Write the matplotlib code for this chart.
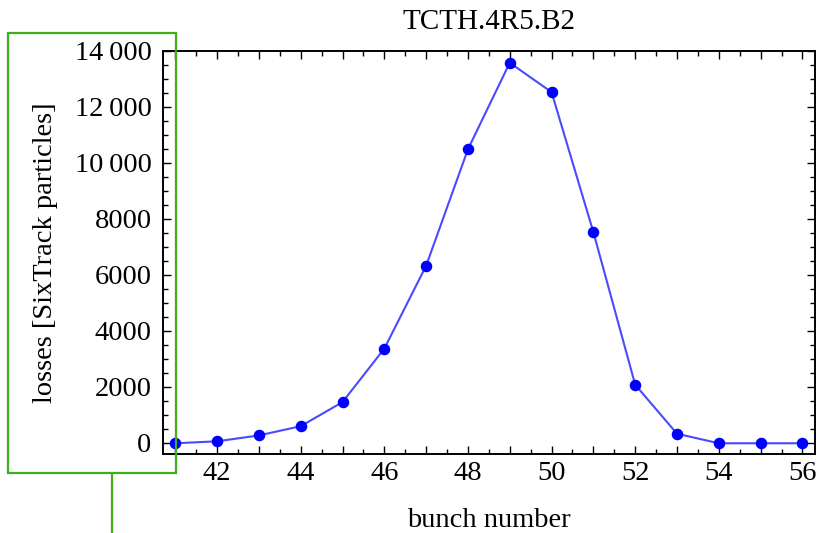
import matplotlib
matplotlib.use("Agg")
import matplotlib.pyplot as plt
from matplotlib.ticker import MultipleLocator, FuncFormatter
from matplotlib.patches import Rectangle
from matplotlib.lines import Line2D

bunch = [41, 42, 43, 44, 45, 46, 47, 48, 49, 50, 51, 52, 53, 54, 55, 56]
losses = [-10, 60, 270, 600, 1460, 3370, 6330, 10490, 13580, 12530, 7530, 2080, 330, -10, -10, -10]

title = "TCTH.4R5.B2"
xlabel = "bunch number"
ylabel = "losses [SixTrack particles]"

plt.rcParams['font.family'] = ['Liberation Serif', 'DejaVu Serif']

W, H = 817, 533
fig = plt.figure(figsize=(W / 100, H / 100), dpi=100)
ax = fig.add_axes([162.7 / W, 1 - 454.3 / H, (815 - 162.7) / W, (454.3 - 51) / H])

ax.plot(bunch, losses, color='#4a4aff', lw=1.5, marker='o', markersize=7.3,
        markerfacecolor='#0000ff', markeredgecolor='#0000ff', clip_on=False, zorder=3)

ax.set_xlim(40.7, 56.3)
ax.set_ylim(-404, 14000)

ax.xaxis.set_major_locator(MultipleLocator(1))
ax.xaxis.set_minor_locator(MultipleLocator(0.5))
ax.yaxis.set_major_locator(MultipleLocator(2000))
ax.yaxis.set_minor_locator(MultipleLocator(500))

def xfmt(v, pos):
    iv = int(round(v))
    return str(iv) if iv % 2 == 0 else ""

def yfmt(v, pos):
    iv = int(round(v))
    if abs(iv) >= 10000:
        s = f"{iv:,}".replace(",", "\u2009")
        return s
    return str(iv)

ax.xaxis.set_major_formatter(FuncFormatter(xfmt))
ax.yaxis.set_major_formatter(FuncFormatter(yfmt))

ax.tick_params(which='both', direction='in', top=True, right=True, width=1.0, colors='black')
ax.tick_params(which='major', length=6)
ax.tick_params(which='minor', length=3.5)
ax.tick_params(axis='y', which='major', labelsize=20.5, pad=8)
ax.tick_params(axis='x', which='major', labelsize=20.5, pad=5)
for s in ax.spines.values():
    s.set_linewidth(1.4)

ax.set_title(title, fontsize=21, pad=16)
ax.set_xlabel(xlabel, fontsize=20.5, labelpad=16)
ax.set_ylabel(ylabel, fontsize=20.5, labelpad=12)

# green annotation box around the y-axis labels
green = '#3fae1c'
fig.patches.append(Rectangle((7.5 / W, 1 - 472.5 / H), (176 - 7.5) / W, (472.5 - 33.3) / H,
                             transform=fig.transFigure, fill=False, edgecolor=green, lw=1.6))
fig.lines.append(Line2D([112 / W, 112 / W], [1 - 472.5 / H, 0], transform=fig.transFigure,
                        color=green, lw=1.6))

fig.savefig("out.png", dpi=100)
